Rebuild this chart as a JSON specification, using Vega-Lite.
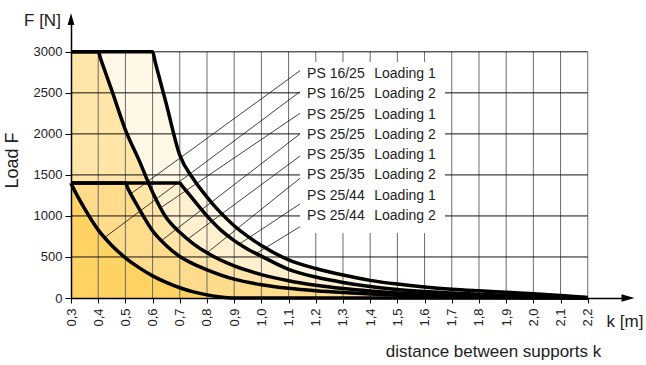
{
  "$schema": "https://vega.github.io/schema/vega-lite/v6.json",
  "width": 557,
  "height": 279,
  "autosize": {"type": "none"},
  "padding": {"left": 71, "top": 19, "right": 18, "bottom": 67},
  "background": "white",
  "config": {"font": "Liberation Sans", "view": {"stroke": null}},
  "datasets": {
    "curves": [
      {"c": "A", "k": 0.3, "F": 3000}, {"c": "A", "k": 0.6, "F": 3000}, {"c": "A", "k": 0.61, "F": 2870}, {"c": "A", "k": 0.65, "F": 2370}, {"c": "A", "k": 0.7, "F": 1740}, {"c": "A", "k": 0.75, "F": 1450}, {"c": "A", "k": 0.8, "F": 1230}, {"c": "A", "k": 0.85, "F": 1040}, {"c": "A", "k": 0.9, "F": 880}, {"c": "A", "k": 0.95, "F": 750}, {"c": "A", "k": 1.0, "F": 640}, {"c": "A", "k": 1.1, "F": 465}, {"c": "A", "k": 1.2, "F": 360}, {"c": "A", "k": 1.3, "F": 280}, {"c": "A", "k": 1.4, "F": 215}, {"c": "A", "k": 1.5, "F": 170}, {"c": "A", "k": 1.6, "F": 135}, {"c": "A", "k": 1.7, "F": 108}, {"c": "A", "k": 1.8, "F": 88}, {"c": "A", "k": 1.9, "F": 70}, {"c": "A", "k": 2.0, "F": 52}, {"c": "A", "k": 2.1, "F": 30}, {"c": "A", "k": 2.2, "F": 5},
      {"c": "B", "k": 0.3, "F": 3000}, {"c": "B", "k": 0.4, "F": 3000}, {"c": "B", "k": 0.41, "F": 2905}, {"c": "B", "k": 0.45, "F": 2530}, {"c": "B", "k": 0.5, "F": 2050}, {"c": "B", "k": 0.55, "F": 1680}, {"c": "B", "k": 0.6, "F": 1290}, {"c": "B", "k": 0.65, "F": 980}, {"c": "B", "k": 0.7, "F": 800}, {"c": "B", "k": 0.75, "F": 660}, {"c": "B", "k": 0.8, "F": 550}, {"c": "B", "k": 0.9, "F": 390}, {"c": "B", "k": 1.0, "F": 285}, {"c": "B", "k": 1.1, "F": 210}, {"c": "B", "k": 1.2, "F": 155}, {"c": "B", "k": 1.3, "F": 115}, {"c": "B", "k": 1.4, "F": 85}, {"c": "B", "k": 1.5, "F": 62}, {"c": "B", "k": 1.6, "F": 45}, {"c": "B", "k": 1.7, "F": 34}, {"c": "B", "k": 1.8, "F": 25}, {"c": "B", "k": 1.9, "F": 18}, {"c": "B", "k": 2.0, "F": 12}, {"c": "B", "k": 2.1, "F": 7}, {"c": "B", "k": 2.2, "F": 3},
      {"c": "D", "k": 0.3, "F": 1400}, {"c": "D", "k": 0.7, "F": 1400}, {"c": "D", "k": 0.71, "F": 1360}, {"c": "D", "k": 0.75, "F": 1200}, {"c": "D", "k": 0.8, "F": 1000}, {"c": "D", "k": 0.85, "F": 830}, {"c": "D", "k": 0.9, "F": 700}, {"c": "D", "k": 0.95, "F": 595}, {"c": "D", "k": 1.0, "F": 510}, {"c": "D", "k": 1.1, "F": 350}, {"c": "D", "k": 1.2, "F": 255}, {"c": "D", "k": 1.3, "F": 190}, {"c": "D", "k": 1.4, "F": 140}, {"c": "D", "k": 1.5, "F": 105}, {"c": "D", "k": 1.6, "F": 80}, {"c": "D", "k": 1.7, "F": 60}, {"c": "D", "k": 1.8, "F": 45}, {"c": "D", "k": 1.9, "F": 33}, {"c": "D", "k": 2.0, "F": 22}, {"c": "D", "k": 2.1, "F": 12}, {"c": "D", "k": 2.2, "F": 4},
      {"c": "C", "k": 0.3, "F": 1400}, {"c": "C", "k": 0.5, "F": 1400}, {"c": "C", "k": 0.51, "F": 1330}, {"c": "C", "k": 0.55, "F": 1090}, {"c": "C", "k": 0.6, "F": 820}, {"c": "C", "k": 0.65, "F": 640}, {"c": "C", "k": 0.7, "F": 506}, {"c": "C", "k": 0.75, "F": 415}, {"c": "C", "k": 0.8, "F": 344}, {"c": "C", "k": 0.9, "F": 230}, {"c": "C", "k": 1.0, "F": 162}, {"c": "C", "k": 1.1, "F": 118}, {"c": "C", "k": 1.2, "F": 88}, {"c": "C", "k": 1.3, "F": 66}, {"c": "C", "k": 1.4, "F": 48}, {"c": "C", "k": 1.5, "F": 35}, {"c": "C", "k": 1.6, "F": 25}, {"c": "C", "k": 1.7, "F": 17}, {"c": "C", "k": 1.8, "F": 11}, {"c": "C", "k": 1.9, "F": 7}, {"c": "C", "k": 2.0, "F": 4}, {"c": "C", "k": 2.1, "F": 2}, {"c": "C", "k": 2.2, "F": 0},
      {"c": "E", "k": 0.3, "F": 1400}, {"c": "E", "k": 0.31, "F": 1330}, {"c": "E", "k": 0.35, "F": 1090}, {"c": "E", "k": 0.4, "F": 830}, {"c": "E", "k": 0.45, "F": 640}, {"c": "E", "k": 0.5, "F": 490}, {"c": "E", "k": 0.55, "F": 370}, {"c": "E", "k": 0.6, "F": 270}, {"c": "E", "k": 0.65, "F": 190}, {"c": "E", "k": 0.7, "F": 125}, {"c": "E", "k": 0.75, "F": 75}, {"c": "E", "k": 0.8, "F": 38}, {"c": "E", "k": 0.85, "F": 12}, {"c": "E", "k": 0.9, "F": 0}, {"c": "E", "k": 1.2, "F": 0}, {"c": "E", "k": 1.6, "F": 0}, {"c": "E", "k": 2.2, "F": 0}
    ],
    "xgrid": [
      {"k": 0.4, "F": 0, "F2": 3000}, {"k": 0.5, "F": 0, "F2": 3000}, {"k": 0.6, "F": 0, "F2": 3000}, {"k": 0.7, "F": 0, "F2": 3000}, {"k": 0.8, "F": 0, "F2": 3000}, {"k": 0.9, "F": 0, "F2": 3000}, {"k": 1.0, "F": 0, "F2": 3000}, {"k": 1.1, "F": 0, "F2": 3000}, {"k": 1.2, "F": 0, "F2": 3000}, {"k": 1.3, "F": 0, "F2": 3000}, {"k": 1.4, "F": 0, "F2": 3000}, {"k": 1.5, "F": 0, "F2": 3000}, {"k": 1.6, "F": 0, "F2": 3000}, {"k": 1.7, "F": 0, "F2": 3000}, {"k": 1.8, "F": 0, "F2": 3000}, {"k": 1.9, "F": 0, "F2": 3000}, {"k": 2.0, "F": 0, "F2": 3000}, {"k": 2.1, "F": 0, "F2": 3000}, {"k": 2.2, "F": 0, "F2": 3000}
    ],
    "ygrid": [
      {"F": 500, "k": 0.3, "k2": 2.2}, {"F": 1000, "k": 0.3, "k2": 2.2}, {"F": 1500, "k": 0.3, "k2": 2.2}, {"F": 2000, "k": 0.3, "k2": 2.2}, {"F": 2500, "k": 0.3, "k2": 2.2}, {"F": 3000, "k": 0.3, "k2": 2.2}
    ],
    "box": [
      {"k": 1.142, "k2": 1.675, "F": 792, "F2": 2876}
    ],
    "leaders": [
      {"k": 1.142, "F": 2770, "k2": 0.52, "F2": 1270},
      {"k": 1.142, "F": 2514, "k2": 0.425, "F2": 740},
      {"k": 1.142, "F": 2251, "k2": 0.63, "F2": 1100},
      {"k": 1.142, "F": 1999, "k2": 0.633, "F2": 700},
      {"k": 1.142, "F": 1730, "k2": 0.73, "F2": 720},
      {"k": 1.142, "F": 1459, "k2": 0.8, "F2": 550},
      {"k": 1.142, "F": 1146, "k2": 0.92, "F2": 660},
      {"k": 1.142, "F": 869, "k2": 0.98, "F2": 540}
    ],
    "labels": [
      {"k": 1.168, "k2": 1.415, "F": 2730, "p": "PS 16/25", "l": "Loading 1"},
      {"k": 1.168, "k2": 1.415, "F": 2485, "p": "PS 16/25", "l": "Loading 2"},
      {"k": 1.168, "k2": 1.415, "F": 2235, "p": "PS 25/25", "l": "Loading 1"},
      {"k": 1.168, "k2": 1.415, "F": 1990, "p": "PS 25/25", "l": "Loading 2"},
      {"k": 1.168, "k2": 1.415, "F": 1745, "p": "PS 25/35", "l": "Loading 1"},
      {"k": 1.168, "k2": 1.415, "F": 1495, "p": "PS 25/35", "l": "Loading 2"},
      {"k": 1.168, "k2": 1.415, "F": 1245, "p": "PS 25/44", "l": "Loading 1"},
      {"k": 1.168, "k2": 1.415, "F": 995, "p": "PS 25/44", "l": "Loading 2"}
    ],
    "arrowX": [{"k": 2.348, "F": 0}],
    "arrowY": [{"k": 0.3, "F": 3400}],
    "unitTitles": [{"k": 0.195, "F": 3376, "t": "F [N]"}, {"k": 2.337, "F": -292, "t": "k [m]"}]
  },
  "encoding": {
    "x": {
      "field": "k", "type": "quantitative",
      "scale": {"domain": [0.3, 2.348], "nice": false, "zero": false},
      "axis": {
        "values": [0.3, 0.4, 0.5, 0.6, 0.7, 0.8, 0.9, 1.0, 1.1, 1.2, 1.3, 1.4, 1.5, 1.6, 1.7, 1.8, 1.9, 2.0, 2.1, 2.2],
        "labelExpr": "replace(format(datum.value, '.1f'), '.', ',')",
        "labelOverlap": false,
        "labelAngle": 270, "labelFontSize": 13, "labelColor": "#222", "labelPadding": 5,
        "tickSize": 5, "tickColor": "black", "tickWidth": 1,
        "domainColor": "black", "domainWidth": 1.5, "grid": false,
        "title": "distance between supports k", "titleFontSize": 17, "titleFontWeight": "normal", "titleColor": "#222",
        "titleX": 422, "titleY": 58, "titleAlign": "center", "titleBaseline": "alphabetic",
        "zindex": 1
      }
    },
    "y": {
      "field": "F", "type": "quantitative",
      "scale": {"domain": [0, 3400], "nice": false},
      "axis": {
        "values": [0, 500, 1000, 1500, 2000, 2500, 3000], "format": "d",
        "labelFontSize": 13, "labelColor": "#222", "labelPadding": 3,
        "tickSize": 6, "tickColor": "black", "tickWidth": 1,
        "domainColor": "black", "domainWidth": 1.5, "grid": false,
        "title": "Load F", "titleFontSize": 18, "titleFontWeight": "normal", "titleColor": "#222",
        "titleX": -59, "titleY": 141, "titleAngle": 270, "titleAlign": "center", "titleBaseline": "middle",
        "zindex": 1
      }
    }
  },
  "layer": [
    {"data": {"name": "curves"}, "transform": [{"filter": "datum.c === 'A'"}], "mark": {"type": "area", "color": "#FFF8E6", "interpolate": "monotone"}},
    {"data": {"name": "curves"}, "transform": [{"filter": "datum.c === 'D'"}], "mark": {"type": "area", "color": "#FFF0CF", "interpolate": "monotone"}},
    {"data": {"name": "curves"}, "transform": [{"filter": "datum.c === 'B'"}], "mark": {"type": "area", "color": "#FFE5A8", "interpolate": "monotone"}},
    {"data": {"name": "curves"}, "transform": [{"filter": "datum.c === 'C'"}], "mark": {"type": "area", "color": "#FFDC8C", "interpolate": "monotone"}},
    {"data": {"name": "curves"}, "transform": [{"filter": "datum.c === 'E'"}], "mark": {"type": "area", "color": "#FFD264", "interpolate": "monotone"}},
    {"data": {"name": "xgrid"}, "mark": {"type": "rule", "color": "#6b6b6b", "strokeWidth": 1},
     "encoding": {"y2": {"field": "F2"}}},
    {"data": {"name": "ygrid"}, "mark": {"type": "rule", "color": "#111", "strokeWidth": 1},
     "encoding": {"x2": {"field": "k2"}}},
    {"data": {"name": "box"}, "mark": {"type": "rect", "color": "white"},
     "encoding": {"x2": {"field": "k2"}, "y2": {"field": "F2"}}},
    {"data": {"name": "leaders"}, "mark": {"type": "rule", "color": "#111", "strokeWidth": 0.8},
     "encoding": {"x2": {"field": "k2"}, "y2": {"field": "F2"}}},
    {"data": {"name": "curves"}, "mark": {"type": "line", "color": "black", "strokeWidth": 3.5, "interpolate": "monotone", "strokeJoin": "round"},
     "encoding": {"detail": {"field": "c"}}},
    {"data": {"name": "labels"}, "mark": {"type": "text", "align": "left", "baseline": "middle", "fontSize": 14, "color": "#222"},
     "encoding": {"text": {"field": "p"}}},
    {"data": {"name": "labels"}, "mark": {"type": "text", "align": "left", "baseline": "middle", "fontSize": 14, "color": "#222"},
     "encoding": {"x": {"field": "k2", "type": "quantitative"}, "text": {"field": "l"}}},
    {"data": {"name": "arrowX"}, "mark": {"type": "point", "shape": "M-1,-0.56L1,0L-1,0.56Z", "filled": true, "color": "black", "opacity": 1, "size": 169}},
    {"data": {"name": "arrowY"}, "mark": {"type": "point", "shape": "M-0.56,1L0,-1L0.56,1Z", "filled": true, "color": "black", "opacity": 1, "size": 144}},
    {"data": {"name": "unitTitles"}, "mark": {"type": "text", "fontSize": 17, "color": "#222", "align": "center", "baseline": "middle"},
     "encoding": {"text": {"field": "t"}}}
  ]
}
